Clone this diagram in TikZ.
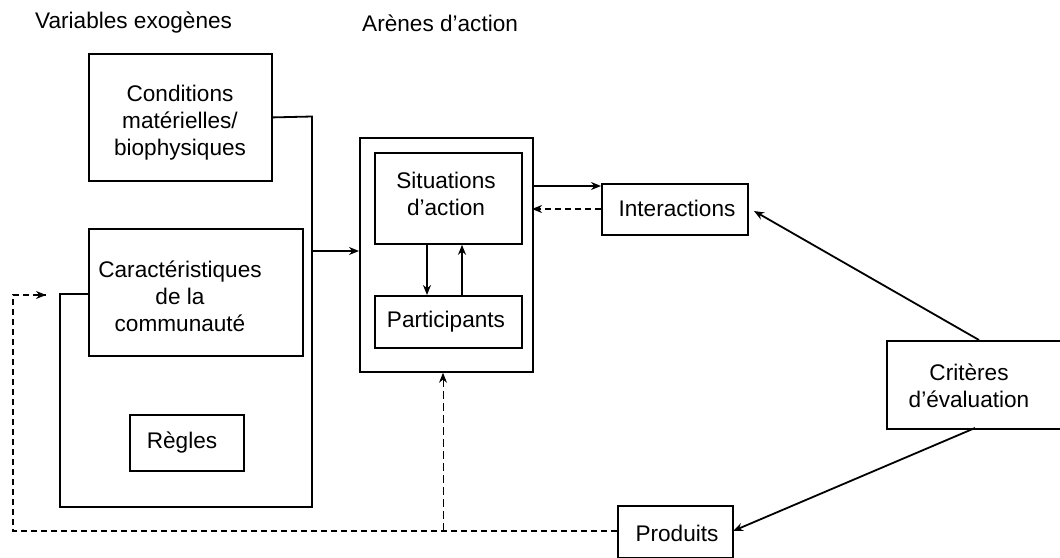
\documentclass[tikz,border=0pt]{standalone}
\usepackage{fontspec}
\setmainfont{Liberation Sans}
\usetikzlibrary{arrows.meta,calc}
\begin{document}
\begin{tikzpicture}[x=1pt,y=-1pt,
  box/.style={draw, line width=1.8pt, inner sep=0pt, anchor=north west},
  lbl/.style={align=center, font=\fontsize{22.6}{27}\selectfont, inner sep=0pt},
  plain/.style={line width=1.8pt},
  tip/.style={-{Stealth[length=10pt,width=8pt]}},
  conn/.style={plain, tip},
  fb/.style={line width=1.7pt, dash pattern=on 6pt off 4pt},
  fbthin/.style={line width=0.9pt, dash pattern=on 8pt off 4pt}
]
\useasboundingbox (0,0) rectangle (1060,557);

% titles
\node[lbl, anchor=west] (t1) at (35,23) {Variables exogènes};
\node[lbl, anchor=west] (t2) at (362,23) {Arènes d’action};

% exogenous variables
\node[box, minimum width=183pt, minimum height=127pt] (cond) at (88,53) {};
\node[lbl] (condt) at (180,123) {Conditions\\matérielles/\\biophysiques};
\node[box, minimum width=214pt, minimum height=127pt] (carac) at (88,228) {};
\node[lbl] (caract) at (180,296) {Caractéristiques\\de la\\communauté};
\node[box, minimum width=114pt, minimum height=56pt] (regles) at (129,414) {};
\node[lbl] (reglest) at (182,443) {Règles};

% action arena
\node[box, minimum width=173pt, minimum height=234pt] (arena) at (359,137) {};
\node[box, minimum width=147pt, minimum height=91pt] (sit) at (374,152) {};
\node[lbl] (sitt) at (446,194) {Situations\\d’action};
\node[box, minimum width=147pt, minimum height=52pt] (part) at (374,295) {};
\node[lbl] (partt) at (446,322) {Participants};

% right side
\node[box, minimum width=146pt, minimum height=51pt] (inter) at (601,183) {};
\node[lbl] (intert) at (677,208) {Interactions};
\node[box, minimum width=180pt, minimum height=88pt] (crit) at (886,340) {};
\node[lbl] (critt) at (969,386) {Critères\\d’évaluation};
\node[box, minimum width=115pt, minimum height=52pt] (prod) at (617,505) {};
\node[lbl] (prodt) at (677,533) {Produits};

% exogenous frame and link
\coordinate (c1) at (312,116.5);
\coordinate (c2) at (312,507);
\coordinate (c3) at (60,507);
\coordinate (c4) at (60,294);
\coordinate (c5) at (88,294);
\coordinate (j) at (312,251);
\draw[plain, line join=miter] (cond.east) -- (c1) -- (c2) -- (c3) -- (c4) -- (c5);
\draw[conn] (j) -- (arena.west |- j);

% arena <-> interactions
\coordinate (a1) at (532,186);
\coordinate (a2) at (532,209);
\draw[conn] (a1) -- (inter.west |- a1);
\draw[fb, tip] (inter.west |- a2) -- (a2);

% situations <-> participants
\draw[conn] (sit.south -| 427,0) -- (part.north -| 427,0);
\draw[conn] (part.north -| 462,0) -- (sit.south -| 462,0);

% evaluation criteria
\coordinate (e1) at (979,340);
\coordinate (e2) at (975,428);
\coordinate (i1) at (754,211);
\coordinate (p1) at (733,531);
\draw[conn] (e1) -- (i1);
\draw[conn] (e2) -- (p1);

% feedback
\coordinate (f1) at (13,531);
\coordinate (f2) at (13,295);
\coordinate (f3) at (46,295);
\coordinate (f4) at (43,295);
\coordinate (g1) at (443,531);
\draw[fb] (prod.west |- f1) -- (f1) -- (f2) -- (f3);
\draw[line width=1.5pt, tip] (f4) -- (f3);
\draw[fbthin, tip] (g1) -- (arena.south -| g1);
\end{tikzpicture}
\end{document}
